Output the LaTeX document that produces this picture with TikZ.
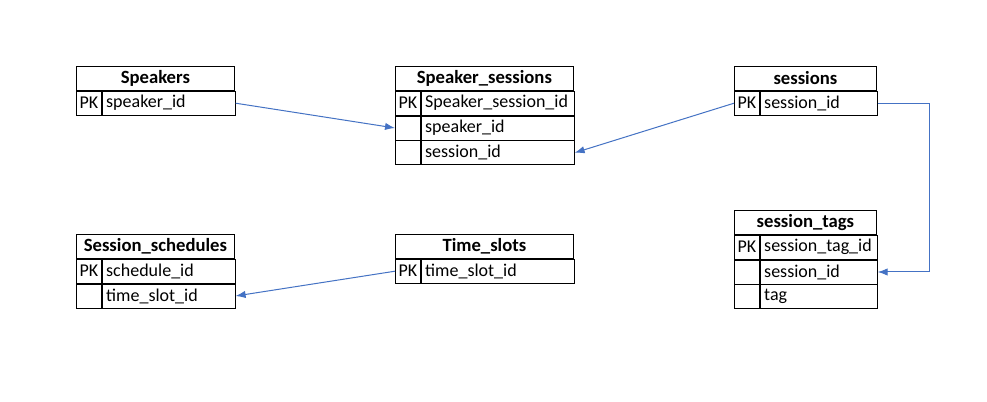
\documentclass[tikz,border=0pt]{standalone}
\usepackage{fontspec}
\setmainfont{Carlito}
\usetikzlibrary{arrows.meta}
\definecolor{linkblue}{HTML}{4472C4}
\tikzset{
  cell/.style={draw=black, line width=0.6pt, minimum height=18pt, inner sep=0pt, anchor=north west},
  hdr/.style={cell, font=\fontsize{14}{16}\selectfont\bfseries},
  keycell/.style={cell, minimum width=18.75pt},
  fieldcell/.style={cell, inner xsep=3pt, align=left},
  link/.style={linkblue, line width=0.75pt, -{Latex[length=7.5pt,width=5.5pt]}}
}
\begin{document}
\begin{tikzpicture}[x=0.75pt,y=-0.75pt,font=\fontsize{13.5}{15}\selectfont]
  \useasboundingbox[fill=white] (0,0) rectangle (987,402);
  % Speakers
  \node[hdr, minimum width=118.5pt] (spkH) at (76,66) {Speakers};
  \node[keycell] (spkK1) at (spkH.south west) {PK};
  \node[fieldcell, text width=93.75pt] (spkF1) at (spkK1.north east) {speaker\_id};
  % Speaker_sessions
  \node[hdr, minimum width=133.5pt] (sssH) at (395,66) {Speaker\_sessions};
  \node[keycell] (sssK1) at (sssH.south west) {PK};
  \node[fieldcell, text width=108.75pt] (sssF1) at (sssK1.north east) {Speaker\_session\_id};
  \node[keycell] (sssK2) at (sssK1.south west) {};
  \node[fieldcell, text width=108.75pt] (sssF2) at (sssK2.north east) {speaker\_id};
  \node[keycell] (sssK3) at (sssK2.south west) {};
  \node[fieldcell, text width=108.75pt] (sssF3) at (sssK3.north east) {session\_id};
  % sessions
  \node[hdr, minimum width=106.5pt] (sesH) at (734,66) {sessions};
  \node[keycell] (sesK1) at (sesH.south west) {PK};
  \node[fieldcell, text width=81.75pt] (sesF1) at (sesK1.north east) {session\_id};
  % session_tags
  \node[hdr, minimum width=106.5pt] (tagH) at (734,210) {session\_tags};
  \node[keycell] (tagK1) at (tagH.south west) {PK};
  \node[fieldcell, text width=81.75pt] (tagF1) at (tagK1.north east) {session\_tag\_id};
  \node[keycell] (tagK2) at (tagK1.south west) {};
  \node[fieldcell, text width=81.75pt] (tagF2) at (tagK2.north east) {session\_id};
  \node[keycell] (tagK3) at (tagK2.south west) {};
  \node[fieldcell, text width=81.75pt] (tagF3) at (tagK3.north east) {tag};
  % Session_schedules
  \node[hdr, minimum width=118.5pt] (schH) at (76,234) {Session\_schedules};
  \node[keycell] (schK1) at (schH.south west) {PK};
  \node[fieldcell, text width=93.75pt] (schF1) at (schK1.north east) {schedule\_id};
  \node[keycell] (schK2) at (schK1.south west) {};
  \node[fieldcell, text width=93.75pt] (schF2) at (schK2.north east) {time\_slot\_id};
  % Time_slots
  \node[hdr, minimum width=133.5pt] (tslH) at (395,234) {Time\_slots};
  \node[keycell] (tslK1) at (tslH.south west) {PK};
  \node[fieldcell, text width=108.75pt] (tslF1) at (tslK1.north east) {time\_slot\_id};
  % relations
  \draw[link] (spkF1.east) -- (sssK2.west);
  \draw[link] (sesK1.west) -- (sssF3.east);
  \coordinate (elbow) at ([xshift=39pt]sesF1.east);
  \draw[link] (sesF1.east) -- (elbow) |- (tagF2.east);
  \draw[link] (tslK1.west) -- (schF2.east);
\end{tikzpicture}
\end{document}
